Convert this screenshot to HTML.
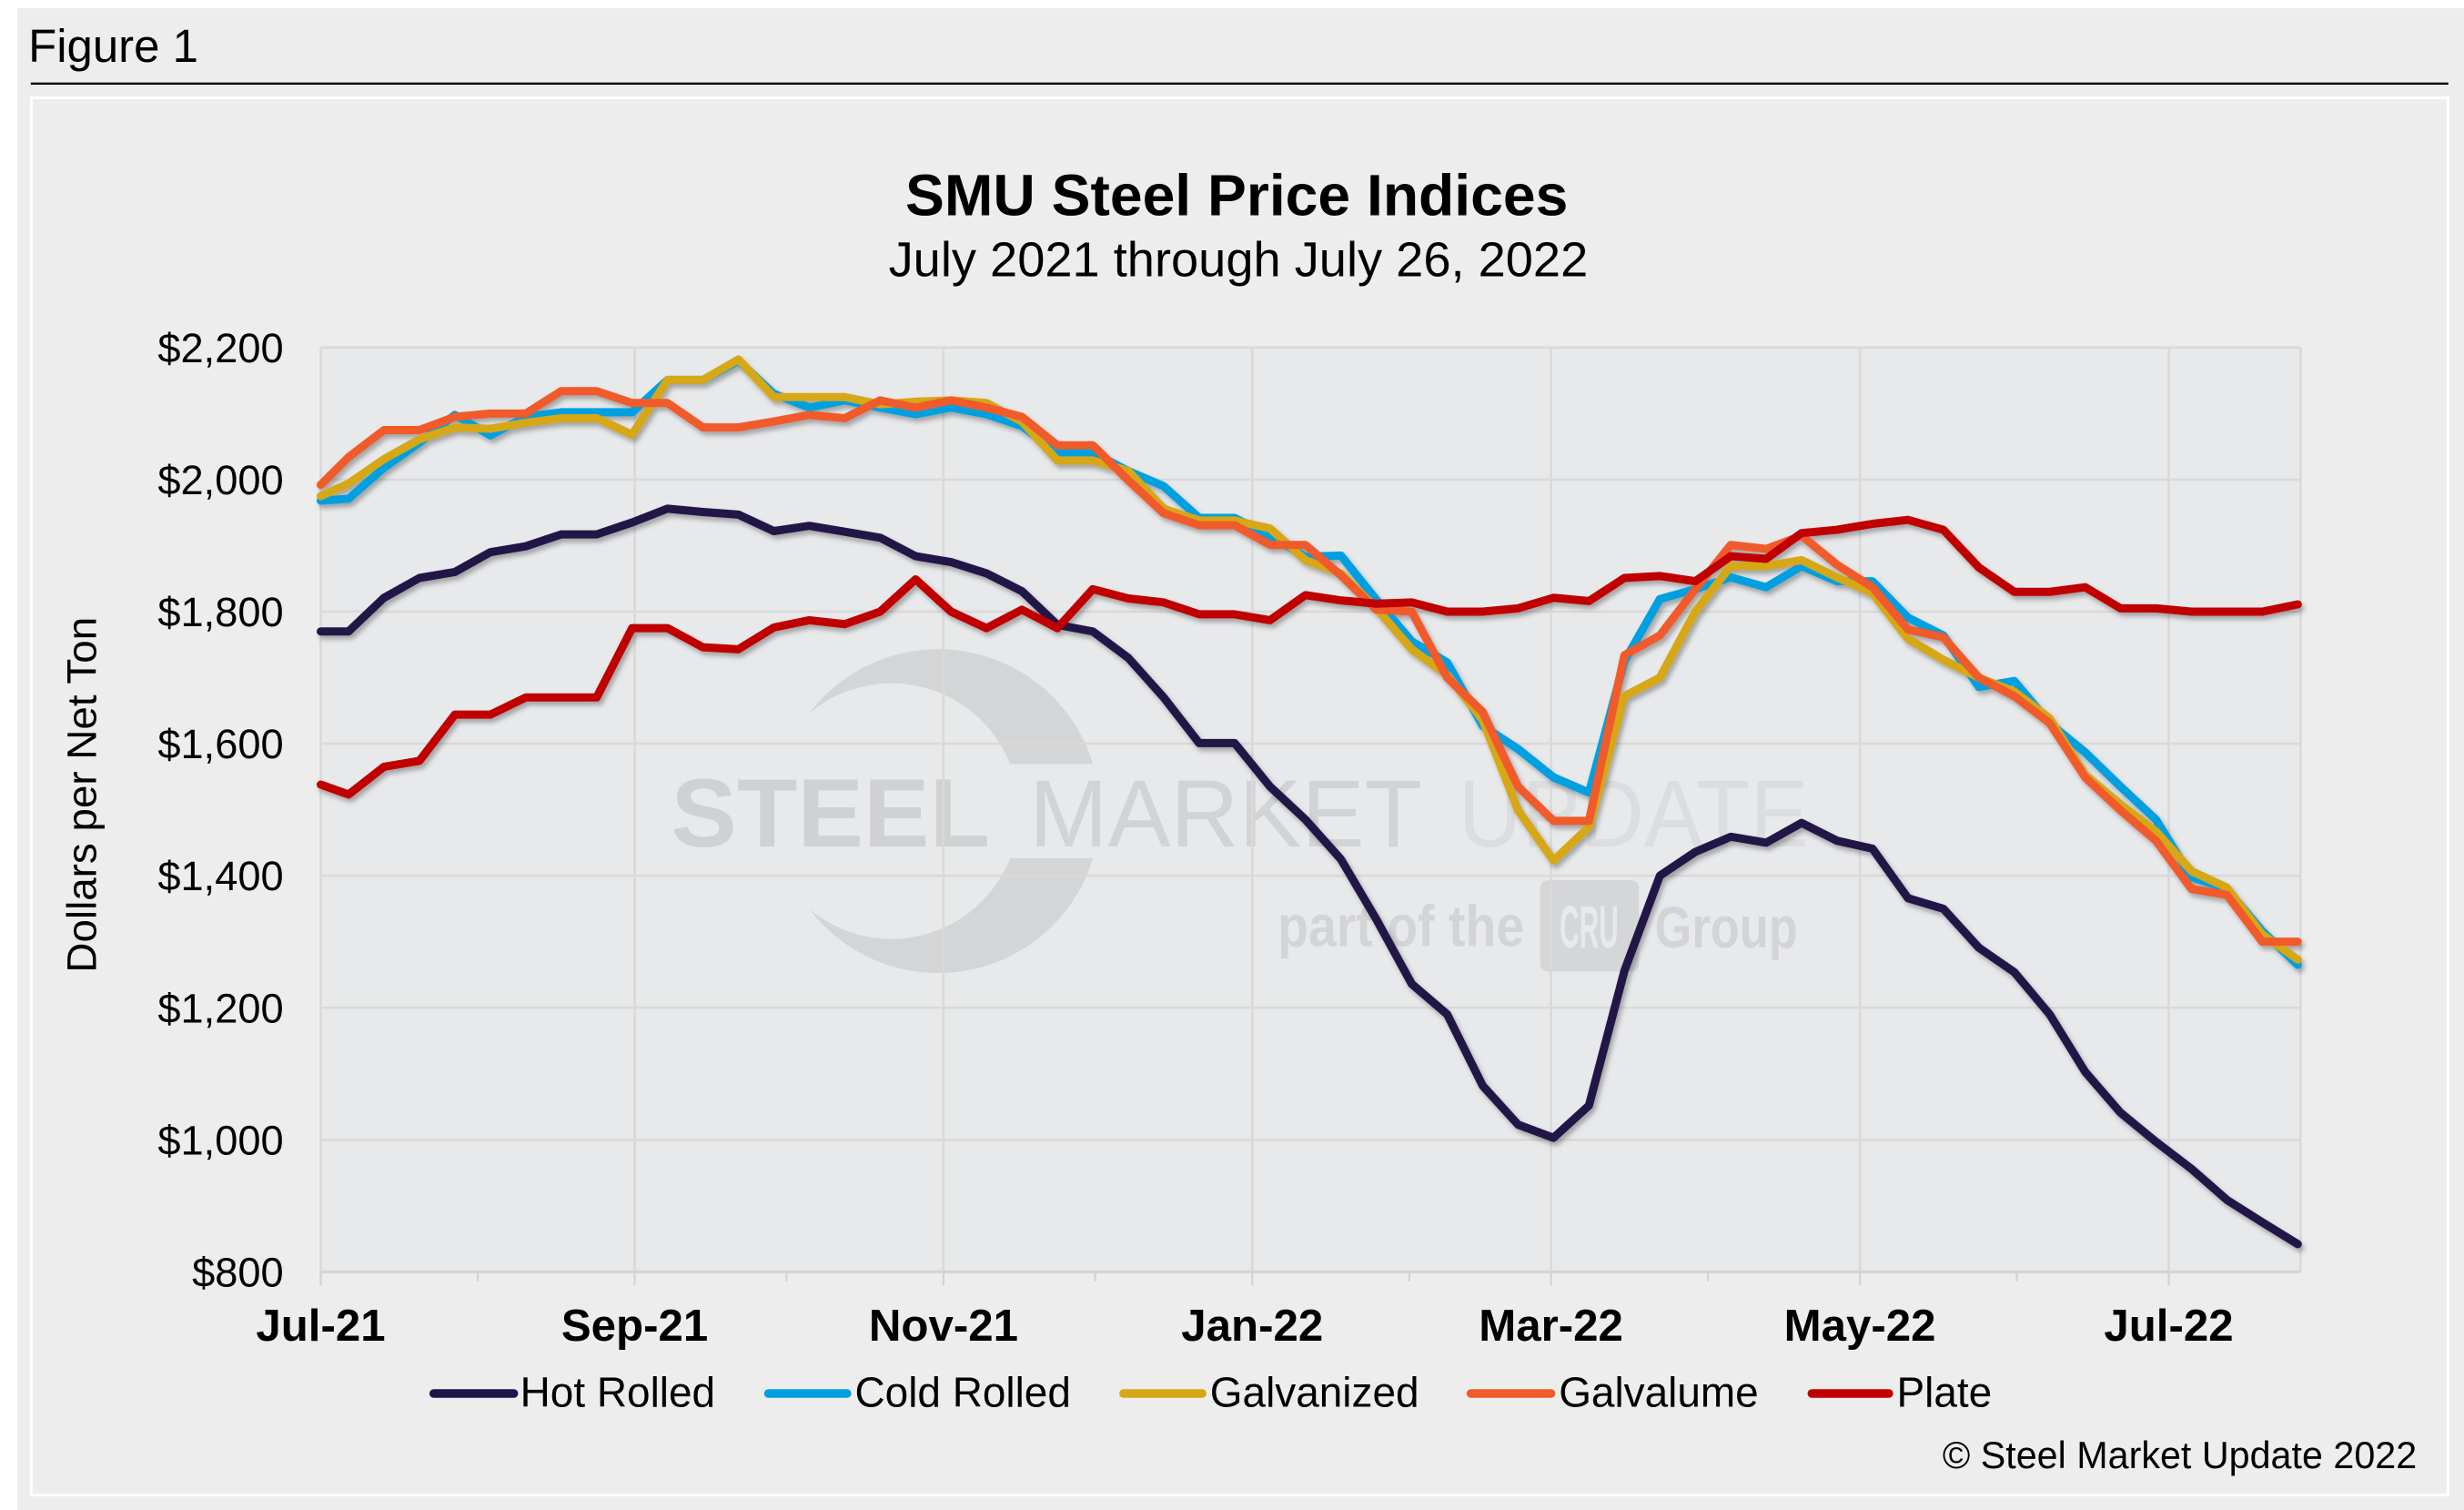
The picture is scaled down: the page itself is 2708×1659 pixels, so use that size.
<!DOCTYPE html>
<html><head><meta charset="utf-8">
<style>
html,body{margin:0;padding:0;background:#fff;}
svg{display:block;}
text{font-family:"Liberation Sans",Arial,sans-serif;}
</style></head>
<body>
<svg xmlns="http://www.w3.org/2000/svg" width="2708" height="1659" viewBox="0 0 1568 960.6" preserveAspectRatio="none">
<defs>
<filter id="sh" x="-5%" y="-5%" width="110%" height="115%">
<feDropShadow dx="1.6" dy="2.4" stdDeviation="1.6" flood-color="#000" flood-opacity="0.3"/>
</filter>
<clipPath id="cc">
<rect x="400" y="380" width="400" height="106"/>
<rect x="400" y="546" width="400" height="120"/>
</clipPath>
</defs>
<rect x="0" y="0" width="1568" height="960.6" fill="#fff"/>
<rect x="11" y="5.2" width="1557" height="955.4" fill="#ededed"/>
<text x="18" y="39.3" font-size="29.5" fill="#000">Figure 1</text>
<rect x="19.6" y="52.5" width="1538.4" height="1.35" fill="#000"/>
<rect x="19.95" y="62.25" width="1537.8" height="888.8" fill="#ededed" stroke="#fff" stroke-width="1.7"/>

<!-- Title -->
<text x="787" y="137" font-size="37.2" font-weight="bold" text-anchor="middle" fill="#000">SMU Steel Price Indices</text>
<text x="788" y="175.6" font-size="31.4" text-anchor="middle" fill="#000">July 2021 through July 26, 2022</text>

<!-- Plot background -->
<rect x="204.1" y="221.1" width="1259.9" height="588" fill="#e8e9eb"/>

<!-- Watermark -->
<g clip-path="url(#cc)">
<path d="M 515 453.7 A 103 103 0 1 1 515 578.3 A 81.3 81.3 0 1 0 515 453.7 Z" fill="#d4d5d7"/>
</g>
<text x="427" y="538.6" font-size="62" font-weight="bold" fill="#d0d1d3" textLength="203" lengthAdjust="spacingAndGlyphs">STEEL</text>
<text x="655" y="538.6" font-size="61" fill="#d2d3d5" textLength="250" lengthAdjust="spacingAndGlyphs">MARKET</text>
<text x="928" y="538.6" font-size="61" fill="#dcdde0" textLength="223" lengthAdjust="spacingAndGlyphs">UPDATE</text>
<text x="813" y="602" font-size="37" font-weight="bold" fill="#d3d4d6" textLength="157" lengthAdjust="spacingAndGlyphs">part of the</text>
<rect x="980" y="560" width="63" height="58" rx="5" fill="#d5d6d8"/>
<text x="992.5" y="602.7" font-size="38" font-weight="bold" fill="#e8e9eb" textLength="37.5" lengthAdjust="spacingAndGlyphs">CRU</text>
<text x="1053" y="602.7" font-size="37" font-weight="bold" fill="#d3d4d6" textLength="91" lengthAdjust="spacingAndGlyphs">Group</text>

<!-- Gridlines -->
<g stroke="#d9d9d9" stroke-width="1.5" fill="none">
<line x1="204.1" y1="221.1" x2="1464" y2="221.1"/>
<line x1="204.1" y1="305.1" x2="1464" y2="305.1"/>
<line x1="204.1" y1="389.1" x2="1464" y2="389.1"/>
<line x1="204.1" y1="473.1" x2="1464" y2="473.1"/>
<line x1="204.1" y1="557.1" x2="1464" y2="557.1"/>
<line x1="204.1" y1="641.1" x2="1464" y2="641.1"/>
<line x1="204.1" y1="725.1" x2="1464" y2="725.1"/>
<line x1="204.1" y1="221.1" x2="204.1" y2="809.1"/>
<line x1="403.9" y1="221.1" x2="403.9" y2="809.1"/>
<line x1="600.4" y1="221.1" x2="600.4" y2="809.1"/>
<line x1="796.9" y1="221.1" x2="796.9" y2="809.1"/>
<line x1="987.0" y1="221.1" x2="987.0" y2="809.1"/>
<line x1="1183.6" y1="221.1" x2="1183.6" y2="809.1"/>
<line x1="1380.1" y1="221.1" x2="1380.1" y2="809.1"/>
<line x1="1464" y1="221.1" x2="1464" y2="809.1"/>
</g>
<!-- Axis + ticks -->
<g stroke="#d3d3d3" fill="none">
<line x1="204.1" y1="809.1" x2="1464" y2="809.1" stroke-width="1.8"/>
<g stroke-width="1.3">
<line x1="204.1" y1="809" x2="204.1" y2="817.6"/>
<line x1="403.9" y1="809" x2="403.9" y2="817.6"/>
<line x1="600.4" y1="809" x2="600.4" y2="817.6"/>
<line x1="796.9" y1="809" x2="796.9" y2="817.6"/>
<line x1="987.0" y1="809" x2="987.0" y2="817.6"/>
<line x1="1183.6" y1="809" x2="1183.6" y2="817.6"/>
<line x1="1380.1" y1="809" x2="1380.1" y2="817.6"/>
<line x1="304" y1="809" x2="304" y2="815.3"/>
<line x1="500.5" y1="809" x2="500.5" y2="815.3"/>
<line x1="697" y1="809" x2="697" y2="815.3"/>
<line x1="896.8" y1="809" x2="896.8" y2="815.3"/>
<line x1="1086.9" y1="809" x2="1086.9" y2="815.3"/>
<line x1="1283.4" y1="809" x2="1283.4" y2="815.3"/>
</g>
</g>

<!-- Y labels -->
<g font-size="26.2" text-anchor="end" fill="#000">
<text x="180.5" y="230.4">$2,200</text>
<text x="180.5" y="314.4">$2,000</text>
<text x="180.5" y="398.4">$1,800</text>
<text x="180.5" y="482.4">$1,600</text>
<text x="180.5" y="566.4">$1,400</text>
<text x="180.5" y="650.4">$1,200</text>
<text x="180.5" y="734.4">$1,000</text>
<text x="180.5" y="818.4">$800</text>
</g>
<text transform="translate(61,505.6) rotate(-90)" font-size="26.5" text-anchor="middle" fill="#000">Dollars per Net Ton</text>

<!-- X labels -->
<g font-size="28.5" font-weight="bold" text-anchor="middle" fill="#000">
<text x="204.1" y="853">Jul-21</text>
<text x="403.9" y="853">Sep-21</text>
<text x="600.4" y="853">Nov-21</text>
<text x="796.9" y="853">Jan-22</text>
<text x="987.0" y="853">Mar-22</text>
<text x="1183.6" y="853">May-22</text>
<text x="1380.1" y="853">Jul-22</text>
</g>

<!-- Series -->
<g filter="url(#sh)" fill="none" stroke-linejoin="round" stroke-linecap="round">
<g transform="matrix(22.553 0 0 -0.42 199.25 1145.1)">
<polyline vector-effect="non-scaling-stroke" stroke-width="9" stroke="#201547" points="0.215,1770 1,1770 2,1821 3,1851 4,1860 5,1890 6,1899 7,1917 8,1917 9,1935 10,1956 11,1951 12,1947 13,1922 14,1930 15,1921 16,1912 17,1884 18,1875 19,1858 20,1831 21,1780 22,1770 23,1730 24,1670 25,1601 26,1601 27,1535 28,1485 29,1425 30,1334 31,1236 32,1190 33,1082 34,1023 35,1003 36,1052 37,1256 38,1400 39,1436 40,1459 41,1450 42,1480 43,1453 44,1441 45,1366 46,1350 47,1291 48,1254 49,1190 50,1103 51,1041 52,997 53,956 54,909 55,875 56,842"/>
<polyline vector-effect="non-scaling-stroke" stroke-width="9" stroke="#00a0e0" points="0.215,1968 1,1971 2,2018 3,2056 4,2098 5,2067 6,2095 7,2102 8,2102 9,2102 10,2151 11,2151 12,2180 13,2130 14,2109 15,2120 16,2109 17,2099 18,2109 19,2099 20,2081 21,2041 22,2041 23,2013 24,1990 25,1942 26,1942 27,1915 28,1883 29,1885 30,1818 31,1755 32,1723 33,1627 34,1592 35,1549 36,1526 37,1725 38,1819 39,1834 40,1852 41,1837 42,1869 43,1846 44,1846 45,1791 46,1764 47,1686 48,1695 49,1631 50,1587 51,1535 52,1485 53,1398 54,1380 55,1316 56,1265"/>
<polyline vector-effect="non-scaling-stroke" stroke-width="9" stroke="#d6a717" points="0.215,1975 1,1994 2,2031 3,2061 4,2079 5,2077 6,2086 7,2093 8,2093 9,2068 10,2151 11,2151 12,2182 13,2125 14,2125 15,2125 16,2114 17,2118 18,2120 19,2116 20,2088 21,2029 22,2029 23,2013 24,1956 25,1938 26,1938 27,1926 28,1878 29,1858 30,1805 31,1743 32,1704 33,1636 34,1499 35,1423 36,1474 37,1672 38,1700 39,1800 40,1869 41,1869 42,1878 43,1852 44,1828 45,1759 46,1727 47,1700 48,1679 49,1638 50,1553 51,1508 52,1467 53,1407 54,1382 55,1311 56,1273"/>
<polyline vector-effect="non-scaling-stroke" stroke-width="9" stroke="#f15a29" points="0.215,1992 1,2034 2,2075 3,2075 4,2095 5,2100 6,2100 7,2134 8,2134 9,2116 10,2116 11,2079 12,2079 13,2088 14,2098 15,2093 16,2120 17,2109 18,2120 19,2109 20,2095 21,2052 22,2052 23,1999 24,1949 25,1931 26,1931 27,1901 28,1901 29,1855 30,1803 31,1800 32,1700 33,1648 34,1535 35,1483 36,1483 37,1734 38,1764 39,1834 40,1901 41,1895 42,1915 43,1871 44,1837 45,1773 46,1761 47,1700 48,1672 49,1631 50,1549 51,1499 52,1453 53,1380 54,1371 55,1300 56,1300"/>
<polyline vector-effect="non-scaling-stroke" stroke-width="9" stroke="#c00000" points="0.215,1538 1,1523 2,1565 3,1574 4,1644 5,1644 6,1670 7,1670 8,1670 9,1775 10,1775 11,1746 12,1743 13,1776 14,1787 15,1781 16,1800 17,1849 18,1800 19,1775 20,1803 21,1775 22,1834 23,1820 24,1814 25,1796 26,1796 27,1787 28,1825 29,1817 30,1812 31,1814 32,1800 33,1800 34,1805 35,1821 36,1816 37,1851 38,1854 39,1846 40,1884 41,1880 42,1919 43,1924 44,1933 45,1939 46,1924 47,1867 48,1830 49,1830 50,1837 51,1805 52,1805 53,1800 54,1800 55,1800 56,1811"/>
</g>
</g>

<!-- Legend -->
<g stroke-width="5.5" stroke-linecap="round">
<line x1="276" y1="886.5" x2="327" y2="886.5" stroke="#201547"/>
<line x1="489" y1="886.5" x2="539" y2="886.5" stroke="#00a0e0"/>
<line x1="715" y1="886.5" x2="765" y2="886.5" stroke="#d6a717"/>
<line x1="936" y1="886.5" x2="987" y2="886.5" stroke="#f15a29"/>
<line x1="1153" y1="886.5" x2="1202" y2="886.5" stroke="#c00000"/>
</g>
<g font-size="26.6" fill="#000">
<text x="331" y="894.8">Hot Rolled</text>
<text x="544" y="894.8">Cold Rolled</text>
<text x="770" y="894.8">Galvanized</text>
<text x="992" y="894.8">Galvalume</text>
<text x="1207" y="894.8">Plate</text>
</g>

<text x="1538" y="934" font-size="23.9" text-anchor="end" fill="#000">© Steel Market Update 2022</text>
</svg>
</body></html>
